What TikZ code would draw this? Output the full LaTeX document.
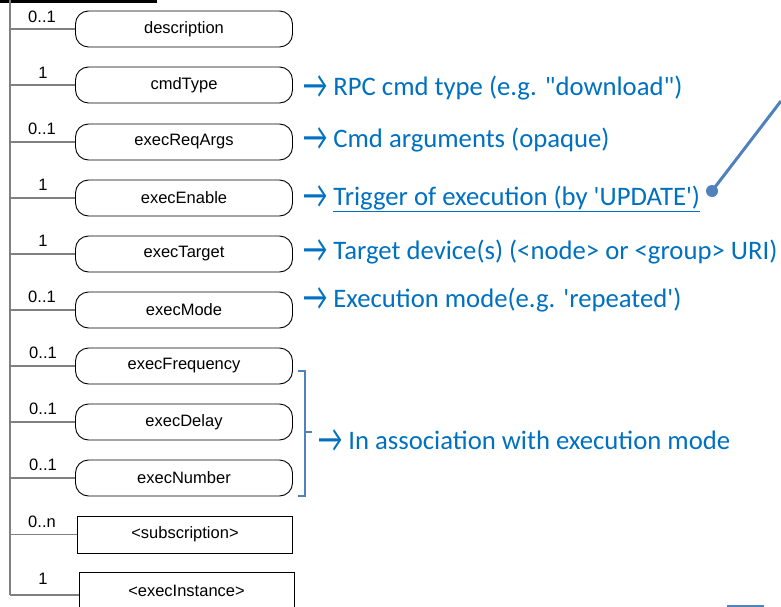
\documentclass[tikz,border=0pt]{standalone}
\usepackage{fontspec}
\usepackage{graphicx}
\setmainfont{Liberation Sans}
\newfontfamily\notefont{Carlito}
\definecolor{notetext}{HTML}{0070C0}
\definecolor{noteline}{HTML}{4F81BD}
\definecolor{trunkgray}{HTML}{808080}
\newcommand{\pointsto}{\smash{\raisebox{-3pt}{\scalebox{1.0}[1.5]{→}}}}
\tikzset{
  elem/.style={draw, line width=0.9pt, rounded corners=13pt, minimum width=217pt,
    minimum height=36pt, inner sep=0pt, font=\fontsize{16.5}{19}\selectfont},
  refbox/.style={draw, line width=0.9pt, minimum width=215pt, minimum height=37pt,
    inner sep=0pt, font=\fontsize{16.5}{19}\selectfont},
  mult/.style={font=\fontsize{16.5}{19}\selectfont, inner sep=0pt},
  branch/.style={draw=trunkgray, line width=1.2pt},
  note/.style={anchor=west, inner sep=0pt, text=notetext, font=\notefont\fontsize{26.7}{30}\selectfont},
  bracket/.style={draw=noteline, line width=1.3pt}
}
\begin{document}
\begin{tikzpicture}[x=1pt,y=-1pt]
\useasboundingbox (0,0) rectangle (781,607);
% header bar of the parent element
\fill (0,0) rectangle (157,3.5);
% child elements
\node[elem] (description) at (184,29) {description};
\node[elem] (cmdType) at (184,85) {cmdType};
\node[elem] (execReqArgs) at (184,142) {execReqArgs};
\node[elem] (execEnable) at (184,198) {execEnable};
\node[elem] (execTarget) at (184,254) {execTarget};
\node[elem] (execMode) at (184,310) {execMode};
\node[elem] (execFrequency) at (184,366) {execFrequency};
\node[elem] (execDelay) at (184,422) {execDelay};
\node[elem] (execNumber) at (184,478) {execNumber};
\node[refbox] (subscription) at (185,534.5) {<subscription>};
\node[refbox] (execInstance) at (186.5,590.5) {<execInstance>};
% trunk and branches
\coordinate (trunktop) at (10,0);
\coordinate (trunkbot) at (10,595);
\draw[branch] (trunktop) -- (trunkbot);
\foreach \e in {description,cmdType,execReqArgs,execEnable,execTarget,execMode,
                execFrequency,execDelay,execNumber,subscription}
  \draw[branch] (trunktop |- \e.west) -- (\e.west);
\draw[branch] (trunkbot) -- (trunkbot -| execInstance.west);
% multiplicities
\node[mult] at (42,17) {0..1};
\node[mult] at (43,73) {1};
\node[mult] at (42,129) {0..1};
\node[mult] at (43,185) {1};
\node[mult] at (43,241) {1};
\node[mult] at (42,297) {0..1};
\node[mult] at (43,353) {0..1};
\node[mult] at (43,409) {0..1};
\node[mult] at (43,465) {0..1};
\node[mult] at (42,522) {0..n};
\node[mult] at (43,579) {1};
% notes
\node[note] (n1) at (303,88) {\pointsto\ RPC cmd type (e.g. "download")};
\node[note] (n2) at (303,140) {\pointsto\ Cmd arguments (opaque)};
\node[note] (n3) at (303,199) {\pointsto\ \underline{Trigger of execution (by 'UPDATE')}};
\node[note] (n4) at (303,252) {\pointsto\ Target device(s) (<node> or <group> URI)};
\node[note] (n5) at (303,300) {\pointsto\ Execution mode(e.g. 'repeated')};
% bracket over the three timing elements
\coordinate (bt) at (305,371);
\coordinate (bb) at (305,496);
\coordinate (bm) at (305,432);
\draw[bracket] ([xshift=-7pt]bt) -- (bt) -- (bb) -- ([xshift=-7pt]bb);
\draw[bracket] (bm) -- ([xshift=7pt]bm);
\node[note] (n6) at (318,440) {\pointsto\ In association with execution mode};
% callout pointer
\coordinate (dot) at (712,191);
\coordinate (far) at (781,101);
\fill[noteline] (dot) circle (6);
\draw[noteline, line width=3pt] (dot) -- (far);
% edge of a shape below
\coordinate (s1) at (727,606);
\coordinate (s2) at (764,606);
\draw[noteline, line width=1.5pt] (s1) -- (s2);
\end{tikzpicture}
\end{document}
